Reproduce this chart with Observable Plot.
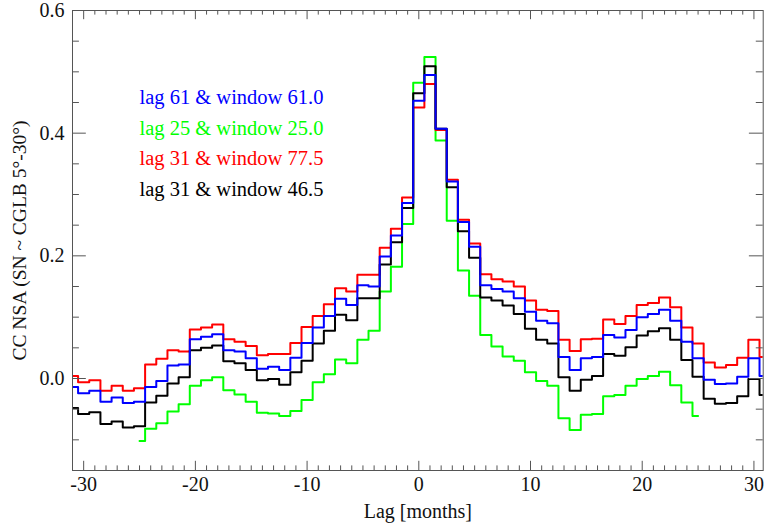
<!DOCTYPE html>
<html><head><meta charset="utf-8">
<script src="https://cdn.jsdelivr.net/npm/d3@7"></script>
<script src="https://cdn.jsdelivr.net/npm/@observablehq/plot@0.6"></script>
<style>html,body{margin:0;padding:0;background:#fff} svg{display:block}</style>
</head><body><div id="chart"></div>
<script>
// ---- data ----
const lags = [-31,-30,-29,-28,-27,-26,-25,-24,-23,-22,-21,-20,-19,-18,-17,-16,-15,-14,-13,-12,-11,-10,-9,-8,-7,-6,-5,-4,-3,-2,-1,0,1,2,3,4,5,6,7,8,9,10,11,12,13,14,15,16,17,18,19,20,21,22,23,24,25,26,27,28,29,30,31];
const lagsGreen = [-25,-24,-23,-22,-21,-20,-19,-18,-17,-16,-15,-14,-13,-12,-11,-10,-9,-8,-7,-6,-5,-4,-3,-2,-1,0,1,2,3,4,5,6,7,8,9,10,11,12,13,14,15,16,17,18,19,20,21,22,23,24,25];

const blue61 = [-0.014,-0.024,-0.020,-0.038,-0.031,-0.040,-0.038,-0.014,-0.004,0.021,0.023,0.064,0.068,0.072,0.046,0.044,0.033,0.016,0.019,0.014,0.034,0.058,0.083,0.102,0.130,0.120,0.152,0.150,0.199,0.233,0.286,0.453,0.495,0.407,0.321,0.255,0.215,0.152,0.146,0.142,0.131,0.109,0.094,0.090,0.035,0.014,0.033,0.035,0.071,0.067,0.079,0.100,0.105,0.112,0.094,0.060,0.033,-0.002,-0.009,-0.008,0.003,0.033,0.004];
const green25 = [-0.102,-0.082,-0.073,-0.054,-0.042,-0.012,-0.003,0.002,-0.019,-0.026,-0.038,-0.056,-0.057,-0.061,-0.053,-0.035,-0.006,0.007,0.031,0.025,0.063,0.078,0.142,0.182,0.252,0.482,0.524,0.388,0.257,0.176,0.135,0.071,0.052,0.036,0.029,0.010,-0.004,-0.012,-0.065,-0.084,-0.059,-0.058,-0.029,-0.027,-0.012,-0.001,0.004,0.011,-0.011,-0.039,-0.061];
const red775 = [0.004,-0.006,-0.003,-0.020,-0.012,-0.020,-0.016,0.023,0.032,0.046,0.044,0.080,0.083,0.088,0.064,0.060,0.053,0.038,0.040,0.040,0.058,0.084,0.102,0.121,0.147,0.142,0.169,0.169,0.213,0.244,0.295,0.442,0.480,0.405,0.324,0.259,0.220,0.170,0.162,0.158,0.150,0.127,0.112,0.110,0.063,0.045,0.064,0.065,0.096,0.089,0.102,0.120,0.123,0.132,0.116,0.083,0.057,0.026,0.018,0.022,0.034,0.063,0.035];
const black465 = [-0.048,-0.058,-0.055,-0.074,-0.070,-0.080,-0.078,-0.039,-0.028,-0.008,0.002,0.046,0.050,0.054,0.028,0.025,0.014,-0.003,-0.001,-0.010,0.010,0.029,0.057,0.078,0.104,0.095,0.131,0.131,0.186,0.222,0.278,0.465,0.509,0.407,0.312,0.240,0.197,0.132,0.127,0.119,0.105,0.081,0.063,0.057,0.002,-0.020,-0.002,0.004,0.040,0.037,0.051,0.070,0.077,0.082,0.063,0.030,0.003,-0.033,-0.041,-0.040,-0.029,-0.001,-0.027];

const legendLabels = ["lag 61 & window 61.0", "lag 25 & window 25.0", "lag 31 & window 77.5", "lag 31 & window 46.5"];
const legendColors = ["#0000ff", "#00ff00", "#ff0000", "#000000"];

const xTicks = [-30, -20, -10, 0, 10, 20, 30];
const xTickLabels = ["-30", "-20", "-10", "0", "10", "20", "30"];
const yTicks = [0.0, 0.2, 0.4, 0.6];
const yTickLabels = ["0.0", "0.2", "0.4", "0.6"];
const xTitle = "Lag [months]";
const yTitle = "CC NSA (SN ~ CGLB 5°-30°)";

// ---- layout ----
const W = 764, H = 523;
const mL = 72, mR = 1.3, mT = 10, mB = 53;
const innerW = W - mL - mR, innerH = H - mT - mB;
const xMaj = 0.02 * innerH, xMin = xMaj / 2;
const yMaj = 0.02 * innerW, yMin = yMaj / 2;
const axisColor = "#555";
const font = "'Liberation Serif', 'Times New Roman', serif";

const xMinor = d3.range(-31, 31, 1).filter(v => !xTicks.includes(v));
const yMinor = d3.range(-0.15, 0.6001, 0.05).map(v => +v.toFixed(2)).filter(v => !yTicks.some(t => Math.abs(t - v) < 1e-9));

const rows = (xs, ys) => xs.map((x, i) => ({x, y: ys[i]}));
const lineOpts = c => ({x: "x", y: "y", curve: "step", stroke: c, strokeWidth: 2, clip: true});

const chart = Plot.plot({
  width: W, height: H,
  marginLeft: mL, marginRight: mR, marginTop: mT, marginBottom: mB,
  style: {fontFamily: font, fontSize: "20px", background: "#fff", color: "#000"},
  x: {domain: [-31, 30.83], axis: null, label: null},
  y: {domain: [-0.15, 0.6], axis: null, label: null},
  marks: [
    // series
    Plot.line(rows(lagsGreen, green25), lineOpts("#00ff00")),
    Plot.line(rows(lags, red775), lineOpts("#ff0000")),
    Plot.line(rows(lags, black465), lineOpts("#000000")),
    Plot.line(rows(lags, blue61), lineOpts("#0000ff")),
    // frame
    Plot.frame({stroke: axisColor, strokeWidth: 1}),
    // x ticks bottom & top
    Plot.ruleX(xTicks, {insetTop: innerH - xMaj, stroke: axisColor}),
    Plot.ruleX(xMinor, {insetTop: innerH - xMin, stroke: axisColor}),
    Plot.ruleX(xTicks, {insetBottom: innerH - xMaj, stroke: axisColor}),
    Plot.ruleX(xMinor, {insetBottom: innerH - xMin, stroke: axisColor}),
    // y ticks left & right
    Plot.ruleY(yTicks, {insetRight: innerW - yMaj, stroke: axisColor}),
    Plot.ruleY(yMinor, {insetRight: innerW - yMin, stroke: axisColor}),
    Plot.ruleY(yTicks, {insetLeft: innerW - yMaj, stroke: axisColor}),
    Plot.ruleY(yMinor, {insetLeft: innerW - yMin, stroke: axisColor}),
    // tick labels
    Plot.axisX(xTicks, {anchor: "bottom", tickSize: 0, tickPadding: 6, fontSize: 20, label: null,
      tickFormat: d => xTickLabels[xTicks.indexOf(d)], fill: "#111"}),
    Plot.axisY(yTicks, {anchor: "left", tickSize: 0, tickPadding: 8, fontSize: 20, label: null,
      tickFormat: d => yTickLabels[yTicks.findIndex(t => Math.abs(t - d) < 1e-9)], fill: "#111"}),
    // axis titles
    Plot.text([xTitle], {frameAnchor: "bottom", lineAnchor: "middle", dy: 41, fontSize: 20, fill: "#111"}),
    Plot.text([yTitle], {frameAnchor: "left", textAnchor: "middle", lineAnchor: "middle", dx: -53, rotate: -90, fontSize: 19.5, fill: "#111"}),
    // legend
    ...legendLabels.map((t, i) => Plot.text([t], {
      frameAnchor: "top-left", textAnchor: "start", lineAnchor: "middle", dx: 67, dy: 87 + i * 30.5,
      fontSize: 20.5, fill: legendColors[i]
    }))
  ]
});
document.getElementById("chart").appendChild(chart);
</script>
</body></html>
